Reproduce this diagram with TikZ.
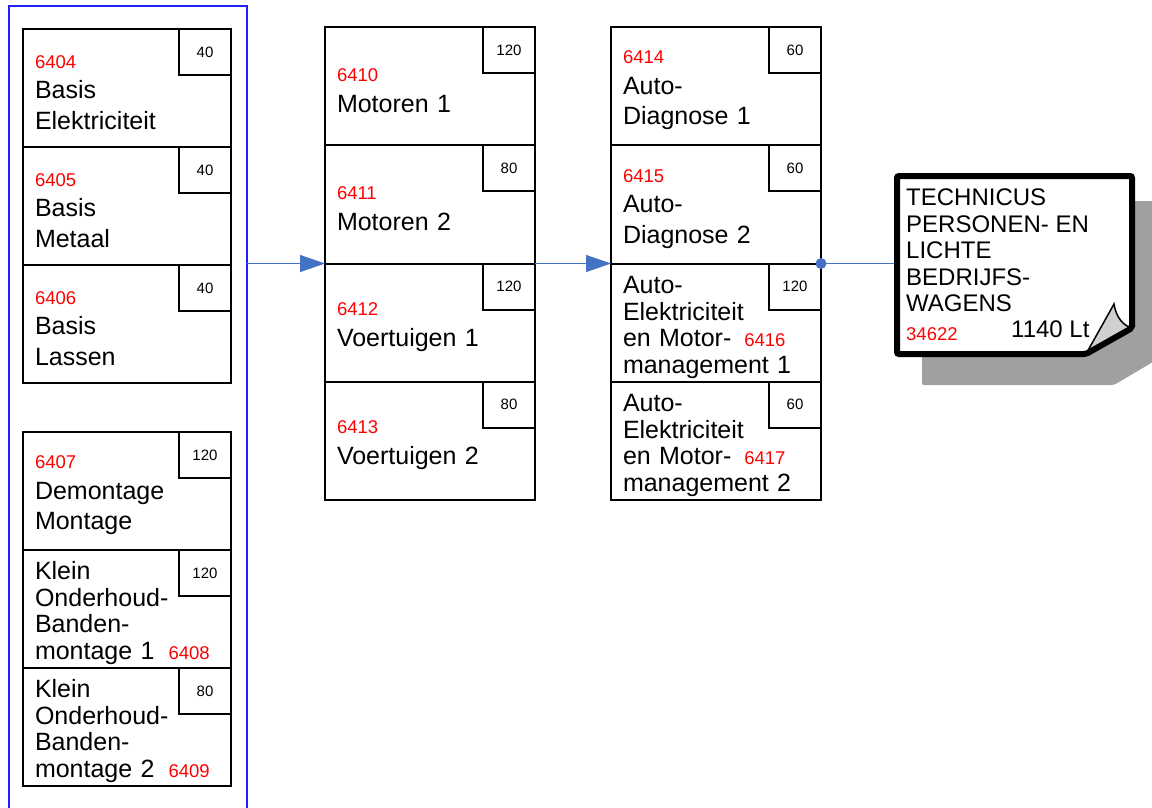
\documentclass[tikz,border=0pt]{standalone}
\usepackage{fontspec}
\setmainfont{Liberation Sans}
\usetikzlibrary{arrows.meta,positioning}

\definecolor{flowblue}{HTML}{4472C4}
\definecolor{frameblue}{HTML}{1F1FFF}
\definecolor{shadowgray}{HTML}{A0A0A0}
\definecolor{foldgray}{HTML}{D0D0D0}
\newcommand{\nr}[1]{{\fontsize{18.5}{20}\selectfont\color{red}#1}}

\begin{document}
\begin{tikzpicture}
[x=1pt,y=-1pt,>={Triangle[length=25pt,width=17pt]},
 course/.style={draw,line width=2pt,minimum width=208pt,minimum height=118pt,
   inner xsep=12pt,inner ysep=0pt,outer sep=0pt,text width=184pt,align=left,
   anchor=north west,font=\fontsize{25}{30.5}\selectfont,
   execute at begin node={\rule{0pt}{21.5pt}}},
 long/.style={font=\fontsize{25}{26.5}\selectfont,
   execute at begin node={\rule{0pt}{26.5pt}}},
 wide/.style={minimum width=210pt,text width=186pt,minimum height=118.25pt},
 hrs/.style={draw,line width=2pt,minimum width=52pt,minimum height=46pt,
   inner sep=0pt,outer sep=0pt,anchor=north east,font=\fontsize{15}{16}\selectfont},
 flow/.style={draw=flowblue,line width=1pt},
 doctext/.style={inner sep=0pt,align=left,font=\fontsize{24}{26.5}\selectfont}]

  \useasboundingbox (0,0) rectangle (1152,807);
  \clip (0,0) rectangle (1152,807);

  % group of basis courses
  \node[draw=frameblue,line width=2pt,minimum width=238pt,minimum height=830pt,
        outer sep=0pt] (basis) at (128,421) {};

  \node[course] (c6404) at (23,29) {\nr{6404}\\Basis\\Elektriciteit};
  \node[course,below=0pt of c6404] (c6405) {\nr{6405}\\Basis\\Metaal};
  \node[course,below=0pt of c6405] (c6406) {\nr{6406}\\Basis\\Lassen};
  \node[course] (c6407) at (23,432) {\nr{6407}\\Demontage\\Montage};
  \node[course,long,below=0pt of c6407] (c6408)
       {Klein\\Onderhoud-\\Banden-\\montage 1\hspace{14pt}\nr{6408}};
  \node[course,long,below=0pt of c6408] (c6409)
       {Klein\\Onderhoud-\\Banden-\\montage 2\hspace{14pt}\nr{6409}};

  \node[course,wide] (c6410) at (325,27) {\nr{6410}\\Motoren 1};
  \node[course,wide,below=0pt of c6410] (c6411) {\nr{6411}\\Motoren 2};
  \node[course,wide,below=0pt of c6411] (c6412) {\nr{6412}\\Voertuigen 1};
  \node[course,wide,below=0pt of c6412] (c6413) {\nr{6413}\\Voertuigen 2};

  \node[course,wide] (c6414) at (611,27) {\nr{6414}\\Auto-\\Diagnose 1};
  \node[course,wide,below=0pt of c6414] (c6415) {\nr{6415}\\Auto-\\Diagnose 2};
  \node[course,wide,long,below=0pt of c6415] (c6416)
       {Auto-\\Elektriciteit\\en Motor-\hspace{13pt}\nr{6416}\\management 1};
  \node[course,wide,long,below=0pt of c6416] (c6417)
       {Auto-\\Elektriciteit\\en Motor-\hspace{13pt}\nr{6417}\\management 2};

  % hours
  \node[hrs] (h6404) at (c6404.north east) {40};
  \node[hrs] (h6405) at (c6405.north east) {40};
  \node[hrs] (h6406) at (c6406.north east) {40};
  \node[hrs] (h6407) at (c6407.north east) {120};
  \node[hrs] (h6408) at (c6408.north east) {120};
  \node[hrs] (h6409) at (c6409.north east) {80};
  \node[hrs] (h6410) at (c6410.north east) {120};
  \node[hrs] (h6411) at (c6411.north east) {80};
  \node[hrs] (h6412) at (c6412.north east) {120};
  \node[hrs] (h6413) at (c6413.north east) {80};
  \node[hrs] (h6414) at (c6414.north east) {60};
  \node[hrs] (h6415) at (c6415.north east) {60};
  \node[hrs] (h6416) at (c6416.north east) {120};
  \node[hrs] (h6417) at (c6417.north east) {60};

  % diploma
  \node[minimum width=235pt,minimum height=178pt,inner sep=0pt,outer sep=0pt]
       (tp) at (1014.5,265) {};

  \draw[flow,->] (basis.east |- c6412.north west) -- (c6412.north west);
  \draw[flow,->] (c6412.north east) -- (c6416.north west);
  \draw[flow] (c6416.north east) -- (tp.west |- c6416.north east);
  \fill[flowblue] (c6416.north east) circle (5.5pt);

  \fill[shadowgray,rounded corners=2pt] ([shift={(25,25)}]tp.north west)
       -- ++(241,0) -- ++(0,155) -- ++(-49,29) -- ++(-192,0) -- cycle;
  \fill[white] (tp.north west) -- (tp.north east) -- ++(0,152)
       -- ++(-46,26) -- (tp.south west) -- cycle;
  \filldraw[fill=foldgray,draw=black,line width=1.5pt]
       ([shift={(-46,0)}]tp.south east) -- ++(28,-50)
       .. controls +(2,14) and +(-8,-2) .. ([shift={(0,-26)}]tp.south east) -- cycle;
  \draw[line width=6pt,rounded corners=2pt] (tp.north west) -- (tp.north east)
       -- ++(0,152) -- ++(-46,26) -- (tp.south west) -- cycle;

  \node[doctext,anchor=north west] (tpname) at ([shift={(9,13)}]tp.north west)
       {TECHNICUS\\PERSONEN- EN\\LICHTE\\BEDRIJFS-\\WAGENS};
  \node[inner sep=0pt,anchor=west] (tpcode) at ([shift={(9,158)}]tp.north west) {\nr{34622}};
  \node[doctext,anchor=west] (tphrs) at ([shift={(114,153)}]tp.north west) {1140 Lt};
\end{tikzpicture}
\end{document}
